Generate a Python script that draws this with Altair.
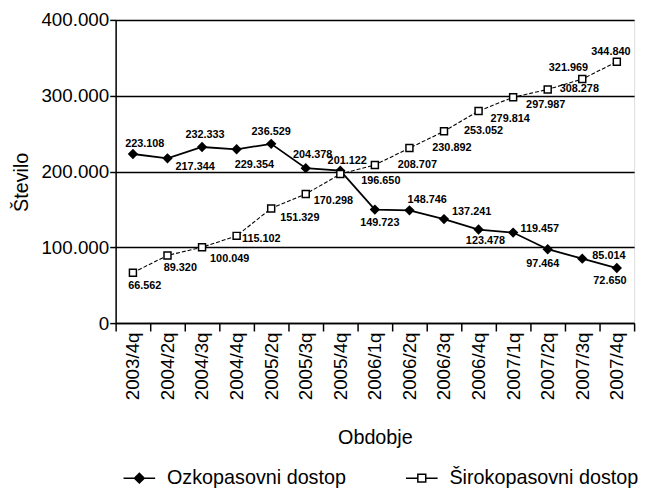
import altair as alt
import pandas as pd

categories = ["2003/4q", "2004/2q", "2004/3q", "2004/4q", "2005/2q", "2005/3q", "2005/4q",
              "2006/1q", "2006/2q", "2006/3q", "2006/4q", "2007/1q", "2007/2q", "2007/3q", "2007/4q"]
ozko = [223108, 217344, 232333, 229354, 236529, 204378, 201122, 149723, 148746, 137241,
        123478, 119457, 97464, 85014, 72650]
siroko = [66562, 89320, 100049, 115102, 151329, 170298, 196650, 208707, 230892, 253052,
          279814, 297987, 308278, 321969, 344840]
series_names = ["Ozkopasovni dostop", "Širokopasovni dostop"]

# label placement (pixel offsets from the marker)
ozko_dx = [12, 28, 3, 18, 0, 7, 7, 5, 18, 28, 7, 27, -5, 27, -7]
ozko_dy = [-10, 9, -12, 16, -12, -13, -10, 14, -10, -7, 12, -4, 15, -3, 13]
siroko_dx = [12, 13, 28, 25, 29, 28, 41, 43, 43, 40, 32, 33, 32, -14, -6]
siroko_dy = [14, 13, 12, 3, 10, 7, 7, 0, 0, 0, 8, 8, 0, -11, -10]

W, H = 525, 307
YMAX = 400000
px_x = W / len(categories)
px_y = YMAX / H

rows = []
for name, vals, dxs, dys in [(series_names[0], ozko, ozko_dx, ozko_dy),
                             (series_names[1], siroko, siroko_dx, siroko_dy)]:
    for i, v in enumerate(vals):
        rows.append({
            "series": name, "idx": i, "value": v,
            "label": f"{v:,}".replace(",", "."),
            "lx": i + dxs[i] / px_x,
            "ly": v - dys[i] * px_y,
        })
df = pd.DataFrame(rows)

cat_js = "[" + ",".join("'" + c + "'" for c in categories) + "]"
FONT = "Liberation Sans"

x_scale = alt.Scale(domain=[-0.5, len(categories) - 0.5], nice=False, zero=False)
x_main = alt.X("idx:Q", scale=x_scale,
               axis=alt.Axis(values=list(range(len(categories))), labelExpr=cat_js + "[datum.value]",
                             orient="bottom",
                             labelAngle=-90, ticks=False, tickSize=0, labelPadding=9,
                             labelFont=FONT, labelFontSize=19, labelColor="black",
                             title="Obdobje", titleFont=FONT, titleFontSize=20,
                             titleFontWeight="normal", titleColor="black", titlePadding=28,
                             domainColor="black", domainWidth=1.5, grid=False))
x_none = alt.X("idx:Q", scale=x_scale, axis=None)
y_main = alt.Y("value:Q",
               scale=alt.Scale(domain=[0, YMAX], nice=False),
               axis=alt.Axis(values=[0, 100000, 200000, 300000, 400000],
                             labelExpr="replace(format(datum.value, ','), ',', '.')",
                             labelFont=FONT, labelFontSize=19, labelColor="black", labelPadding=1,
                             tickColor="black", tickSize=6, tickWidth=1.5,
                             domainColor="black", domainWidth=1.5,
                             grid=True, gridColor="black", gridWidth=1.5,
                             title="Število", titleFont=FONT, titleFontSize=20,
                             titleFontWeight="normal", titleColor="black", titlePadding=10,
                             titleY=164))

base = alt.Chart(df)
ozko_data = base.transform_filter(alt.datum.series == series_names[0])
siroko_data = base.transform_filter(alt.datum.series == series_names[1])

line_ozko = ozko_data.mark_line(color="black", strokeWidth=1.8).encode(x=x_main, y=y_main)
line_siroko = siroko_data.mark_line(color="black", strokeWidth=1.1, strokeDash=[4, 2]).encode(
    x=x_none, y="value:Q")

# bottom tick marks at category boundaries
tick_axis = base.mark_point(opacity=0).encode(
    x=alt.X("idx:Q", scale=x_scale,
            axis=alt.Axis(values=[i - 0.5 for i in range(len(categories) + 1)], orient="bottom",
                          labels=False, ticks=True, tickSize=8, tickWidth=1.5,
                          tickColor="black", domain=False, grid=False, title=None)),
    y="value:Q",
)

pts_ozko = ozko_data.mark_point(
    shape="diamond", filled=True, color="black", size=110, opacity=1
).encode(x=x_none, y="value:Q")

pts_siroko = siroko_data.mark_point(
    shape="square", fill="white", stroke="black", strokeWidth=1.5, size=50, opacity=1
).encode(x=x_none, y="value:Q")

legend = alt.Legend(
    title=None, orient="none", legendX=14, legendY=454, direction="horizontal",
    labelFont=FONT, labelFontSize=20, labelColor="black", labelOffset=18,
    symbolSize=256, columnPadding=57, symbolStrokeWidth=1.5, symbolStrokeColor="black",
    symbolOpacity=1, labelLimit=400,
)
legend_layer = base.mark_point(strokeWidth=1.5, filled=False, opacity=0).encode(
    x=x_none, y="value:Q",
    shape=alt.Shape("series:N", scale=alt.Scale(
        domain=series_names,
        range=["M-2,0H2M0,-0.62L0.62,0L0,0.62L-0.62,0Z",
               "M-2,0H-0.5M0.5,0H2M-0.5,-0.5H0.5V0.5H-0.5Z"]), legend=legend),
    fill=alt.Fill("series:N", scale=alt.Scale(domain=series_names, range=["black", "white"]), legend=legend),
    stroke=alt.Stroke("series:N", scale=alt.Scale(domain=series_names, range=["black", "black"]), legend=legend),
)

labels = base.mark_text(font=FONT, fontSize=11, fontWeight="bold",
                        color="black", align="center", baseline="middle").encode(
    x=alt.X("lx:Q", scale=x_scale, axis=None), y="ly:Q", text="label:N"
)

chart = alt.layer(line_ozko, line_siroko, tick_axis, pts_ozko, pts_siroko, legend_layer, labels).resolve_axis(
    x="independent"
).properties(
    width=W, height=H,
    autosize=alt.AutoSizeParams(type="none"),
    padding={"left": 109, "top": 9, "right": 9, "bottom": 172},
).configure_view(stroke="black", strokeWidth=1.5).configure(background="white")

chart.save("out.html", embed_options={"renderer": "svg", "actions": False})
